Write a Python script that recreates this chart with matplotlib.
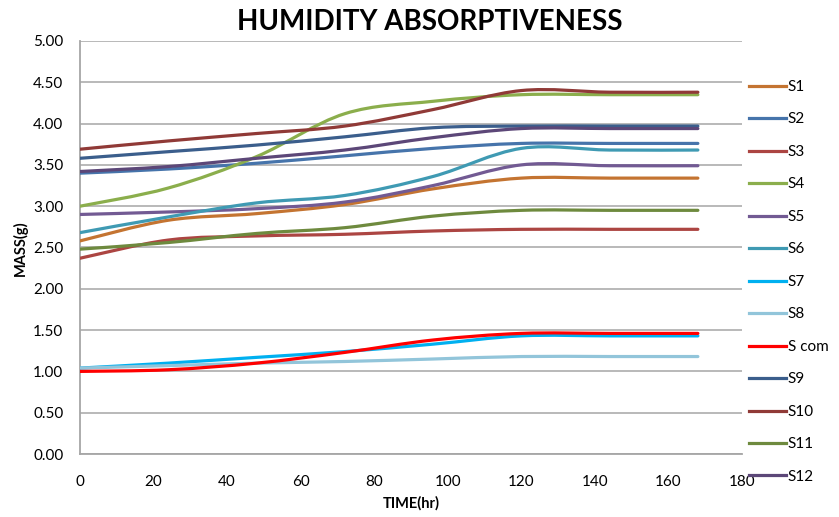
import numpy as np
import matplotlib
matplotlib.use("Agg")
import matplotlib.pyplot as plt
from matplotlib.path import Path
from matplotlib.patches import PathPatch
from matplotlib.lines import Line2D

plt.rcParams['font.family'] = ['Lato', 'DejaVu Sans']

time_hr = [0, 24, 48, 72, 96, 120, 144, 168]
series_names = ["S1", "S2", "S3", "S4", "S5", "S6", "S7", "S8", "S com",
                "S9", "S10", "S11", "S12"]
S1 = [2.58, 2.83, 2.91, 3.02, 3.21, 3.34, 3.34, 3.34]
S2 = [3.40, 3.45, 3.52, 3.61, 3.70, 3.76, 3.76, 3.76]
S3 = [2.37, 2.59, 2.64, 2.66, 2.70, 2.72, 2.72, 2.72]
S4 = [3.00, 3.22, 3.60, 4.12, 4.27, 4.35, 4.35, 4.35]
S5 = [2.90, 2.93, 2.97, 3.05, 3.25, 3.50, 3.49, 3.49]
S6 = [2.68, 2.87, 3.04, 3.13, 3.36, 3.70, 3.68, 3.68]
S7 = [1.04, 1.10, 1.17, 1.24, 1.33, 1.43, 1.43, 1.43]
S8 = [1.04, 1.07, 1.10, 1.12, 1.15, 1.18, 1.18, 1.18]
S_com = [1.00, 1.02, 1.10, 1.23, 1.38, 1.46, 1.46, 1.46]
S9 = [3.58, 3.66, 3.74, 3.84, 3.95, 3.97, 3.97, 3.97]
S10 = [3.69, 3.79, 3.88, 3.97, 4.17, 4.40, 4.38, 4.38]
S11 = [2.48, 2.56, 2.67, 2.74, 2.88, 2.95, 2.95, 2.95]
S12 = [3.42, 3.48, 3.58, 3.68, 3.83, 3.94, 3.94, 3.94]
series_values = [S1, S2, S3, S4, S5, S6, S7, S8, S_com, S9, S10, S11, S12]
colors = ["#C47431", "#4674AB", "#AC4542", "#8BAE4C", "#725A93", "#3F9AB3",
          "#00B0F0", "#92C5DA", "#FF0000", "#3B5E8C", "#903A37", "#6E8A3E",
          "#5C4778"]
xticks = [0, 20, 40, 60, 80, 100, 120, 140, 160, 180]
yticks = [0.0, 0.5, 1.0, 1.5, 2.0, 2.5, 3.0, 3.5, 4.0, 4.5, 5.0]


def smooth_path(xs, ys):
    pts = np.column_stack([xs, ys]).astype(float)
    n = len(pts)
    verts = [pts[0]]
    codes = [Path.MOVETO]
    for i in range(n - 1):
        p0 = pts[i - 1] if i > 0 else pts[i]
        p1 = pts[i]
        p2 = pts[i + 1]
        p3 = pts[i + 2] if i + 2 < n else pts[i + 1]
        c1 = p1 + (p2 - p0) / 6.0
        c2 = p2 - (p3 - p1) / 6.0
        verts += [c1, c2, p2]
        codes += [Path.CURVE4] * 3
    return Path(verts, codes)


W, H = 839, 517
fig = plt.figure(figsize=(W / 100, H / 100), dpi=100)
ax = fig.add_axes([80 / W, 1 - 454 / H, 662 / W, 413 / H])

handles = []
for name, vals, c in zip(series_names, series_values, colors):
    patch = PathPatch(smooth_path(time_hr, vals), fill=False, edgecolor=c,
                      lw=2.3, capstyle='round', joinstyle='round', zorder=3)
    ax.add_patch(patch)
    handles.append(Line2D([], [], color=c, lw=2.3))

ax.set_xlim(0, 180)
ax.set_ylim(0, 5)
ax.set_xticks(xticks)
ax.set_yticks(yticks)
ax.set_yticklabels([f"{v:.2f}" for v in yticks])
ax.yaxis.grid(True, color="#A6A6A6", lw=1.1)
ax.set_axisbelow(True)
for s in ["top", "right"]:
    ax.spines[s].set_visible(False)
for s in ["left", "bottom"]:
    ax.spines[s].set_color("#A6A6A6")
    ax.spines[s].set_linewidth(1.3)
ax.tick_params(axis='both', labelsize=11, colors="#A6A6A6", labelcolor="black")
ax.tick_params(axis='x', length=0, pad=15)
ax.tick_params(axis='y', length=0, pad=12)

fig.text(430 / W, 1 - 22 / H, "HUMIDITY ABSORPTIVENESS", ha='center', va='center',
         fontsize=20, fontweight='bold')
fig.text(20 / W, 1 - 248 / H, "MASS(g)", ha='center', va='center', rotation=90,
         fontsize=10.5, fontweight='bold')
fig.text(411 / W, 1 - 503 / H, "TIME(hr)", ha='center', va='center',
         fontsize=10.5, fontweight='bold')

fig.legend(handles, series_names, loc='upper left',
           bbox_to_anchor=(749 / W, 1 - 80 / H), frameon=False, fontsize=11,
           handlelength=2.4, handletextpad=0.15, labelspacing=1.21,
           borderaxespad=0, borderpad=0)

fig.savefig("out.png", dpi=100)
